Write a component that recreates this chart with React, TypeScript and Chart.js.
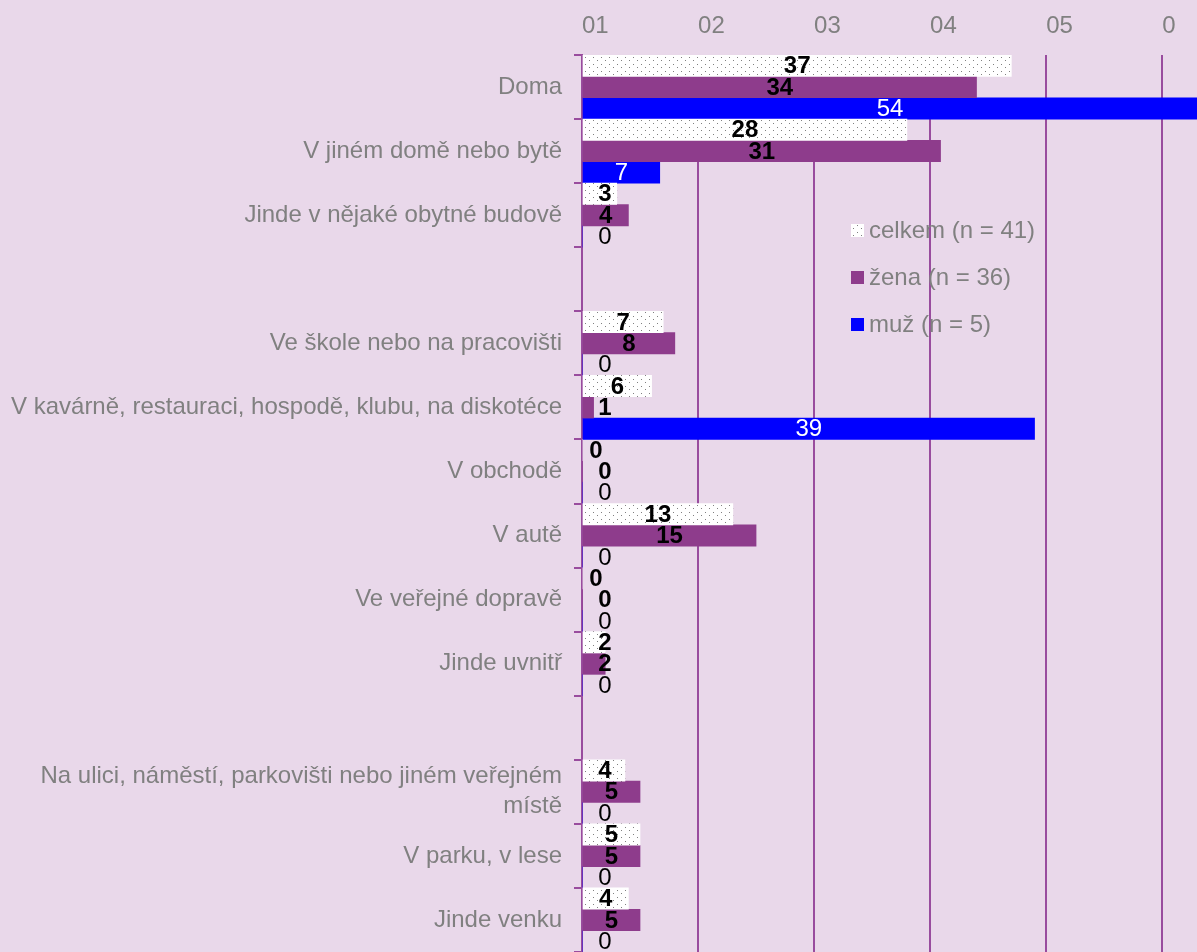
import React, { useEffect, useRef } from "react";
import { Chart, registerables } from "chart.js";

Chart.register(...registerables);

const CATEGORIES: (string | string[])[] = [
  "Doma",
  "V jiném domě nebo bytě",
  "Jinde v nějaké obytné budově",
  "",
  "Ve škole nebo na pracovišti",
  "V kavárně, restauraci, hospodě, klubu, na diskotéce",
  "V obchodě",
  "V autě",
  "Ve veřejné dopravě",
  "Jinde uvnitř",
  "",
  ["Na ulici, náměstí, parkovišti nebo jiném veřejném", "místě"],
  "V parku, v lese",
  "Jinde venku",
];

const CELKEM = [37, 28, 3, null, 7, 6, 0, 13, 0, 2, null, 3.7, 5, 4];
const ZENA = [34, 30.9, 4, null, 8, 1, 0, 15, 0, 2, null, 5, 5, 5];
const MUZ = [54, 6.7, 0, null, 0, 39, 0, 0, 0, 0, null, 0, 0, 0];
const SERIES_NAMES = ["celkem (n = 41)", "žena (n = 36)", "muž (n = 5)"];
const TICK_VALUES = [0, 10, 20, 30, 40, 50];
const TICK_LABELS = ["01", "02", "03", "04", "05", "0"];

const BG = "#E9D8EA";
const GRID = "#994C9E";
const ZENA_COLOR = "#8E3C8C";
const MUZ_COLOR = "#0000FF";
const TEXT_GRAY = "#808080";
const FONT = '"Liberation Sans", Arial, sans-serif';
const NARROW_FONT = '"Liberation Sans Narrow", "Arial Narrow", "Liberation Sans", sans-serif';

function makePattern(): CanvasPattern | string {
  const c = document.createElement("canvas");
  c.width = 8;
  c.height = 7;
  const p = c.getContext("2d");
  if (!p) return "#fff";
  p.fillStyle = "#ffffff";
  p.fillRect(0, 0, 8, 7);
  p.fillStyle = "#808080";
  p.fillRect(1, 1, 1, 1);
  p.fillRect(5, 4, 1, 1);
  const pat = p.createPattern(c, "repeat");
  return pat || "#fff";
}

const valueLabels = {
  id: "valueLabels",
  afterDatasetsDraw(chart: any) {
    const ctx = chart.ctx;
    const area = chart.chartArea;
    ctx.save();
    chart.data.datasets.forEach((ds: any, di: number) => {
      const meta = chart.getDatasetMeta(di);
      meta.data.forEach((bar: any, i: number) => {
        const v = ds.data[i];
        if (v == null) return;
        const start = bar.base;
        const end = Math.min(bar.x, area.right);
        let cx = (start + end) / 2;
        const min = area.left + (di === 0 && v === 0 ? 14 : 23);
        cx = Math.max(cx, min);
        const bold = di !== 2;
        ctx.font = `${bold ? "bold " : ""}24px ${FONT}`;
        ctx.fillStyle = di === 2 && v > 0 ? "#ffffff" : "#000000";
        ctx.textAlign = "center";
        ctx.textBaseline = "middle";
        ctx.fillText(String(Math.round(v)), cx, bar.y + 1);
      });
    });
    ctx.restore();
  },
};

const customLegend = {
  id: "customLegend",
  afterDraw(chart: any) {
    const ctx = chart.ctx;
    ctx.save();
    const x0 = 851;
    const y0 = 230;
    const gap = 47;
    chart.data.datasets.forEach((ds: any, di: number) => {
      const y = y0 + di * gap;
      ctx.fillStyle = ds.backgroundColor;
      ctx.fillRect(x0, y - 6, 13, 13);
      ctx.font = `24px ${FONT}`;
      ctx.fillStyle = TEXT_GRAY;
      ctx.textAlign = "left";
      ctx.textBaseline = "middle";
      ctx.fillText(SERIES_NAMES[di], x0 + 18, y + 1);
    });
    ctx.restore();
  },
};

export default function App() {
  const ref = useRef<HTMLCanvasElement | null>(null);

  useEffect(() => {
    if (!ref.current) return;
    const chart = new Chart(ref.current, {
      type: "bar",
      data: {
        labels: CATEGORIES as any,
        datasets: [
          { label: SERIES_NAMES[0], data: CELKEM as any, backgroundColor: makePattern() as any },
          { label: SERIES_NAMES[1], data: ZENA as any, backgroundColor: ZENA_COLOR },
          { label: SERIES_NAMES[2], data: MUZ as any, backgroundColor: MUZ_COLOR },
        ],
      },
      options: {
        indexAxis: "y",
        animation: false,
        responsive: false,
        maintainAspectRatio: false,
        layout: { padding: 0 },
        datasets: { bar: { categoryPercentage: 1, barPercentage: 1 } } as any,
        plugins: {
          legend: { display: false },
          tooltip: { enabled: false },
        },
        scales: {
          x: {
            position: "top",
            min: 0,
            max: 53,
            afterBuildTicks: (s: any) => {
              s.ticks = TICK_VALUES.map((v) => ({ value: v }));
            },
            afterFit: (s: any) => {
              s.height = 55;
              s.paddingLeft = 0;
              s.paddingRight = 0;
            },
            grid: { color: GRID, lineWidth: 2, drawTicks: false },
            border: { display: false },
            ticks: {
              align: "start",
              padding: 14,
              color: TEXT_GRAY,
              font: { family: NARROW_FONT, size: 24 },
              callback: (_v: any, i: number) => TICK_LABELS[i],
            },
          } as any,
          y: {
            afterFit: (s: any) => {
              s.width = 582;
              s.paddingTop = 0;
              s.paddingBottom = 0;
            },
            grid: {
              offset: true,
              drawOnChartArea: false,
              color: GRID,
              lineWidth: 2,
              tickLength: 8,
            },
            border: { display: true, color: GRID, width: 2 },
            ticks: {
              autoSkip: false,
              padding: 12,
              color: TEXT_GRAY,
              font: { family: FONT, size: 24, lineHeight: 1.25 },
            },
          } as any,
        },
      },
      plugins: [valueLabels, customLegend],
    });
    return () => chart.destroy();
  }, []);

  return (
    <div
      style={{
        position: "absolute",
        left: 0,
        top: 0,
        width: 1197,
        height: 952,
        background: BG,
        overflow: "hidden",
      }}
    >
      <canvas ref={ref} width={1197} height={952} style={{ display: "block" }} />
    </div>
  );
}
